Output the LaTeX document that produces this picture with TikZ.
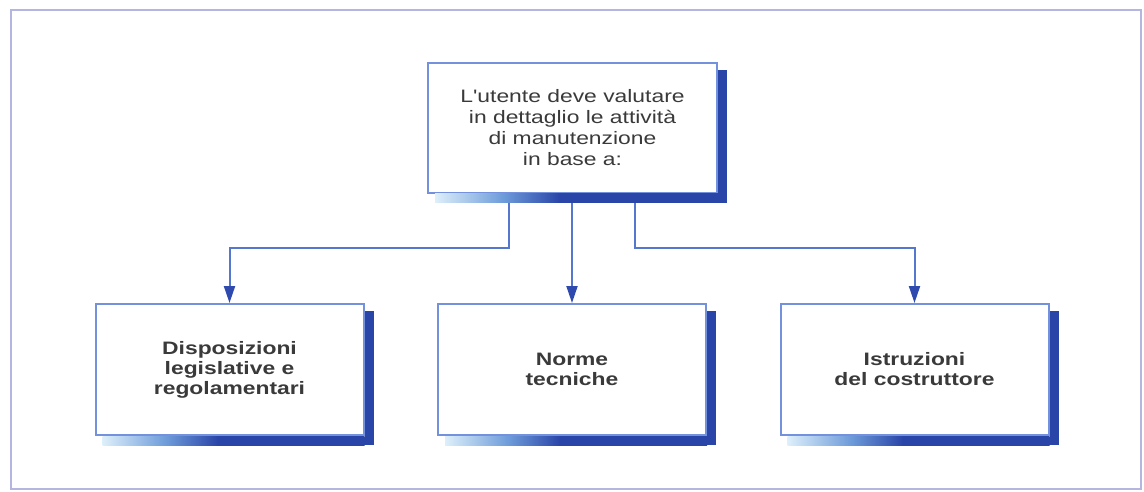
\documentclass[tikz,border=0pt]{standalone}
\usepackage{fontspec}
\newfontfamily\boxfont[FakeStretch=1.27]{Liberation Sans}
\usetikzlibrary{arrows.meta}

\definecolor{framec}{HTML}{B4B6E0}
\definecolor{borderc}{HTML}{7391DC}
\definecolor{linec}{HTML}{5677CE}
\definecolor{headc}{HTML}{2E4AAE}
\definecolor{shadowc}{HTML}{2A45A8}
\definecolor{midc}{HTML}{6E9CDA}
\definecolor{fadec}{HTML}{DDEFFA}
\definecolor{textc}{HTML}{3A3A3A}

% bottom edge of the drop shadow: pale on the left, deep blue on the right
\pgfdeclarehorizontalshading{shadowfade}{100bp}{%
  color(0bp)=(fadec); color(25bp)=(fadec); color(37bp)=(midc);
  color(47bp)=(shadowc); color(100bp)=(shadowc)}

% L-shaped drop shadow below and to the right of a box
\newcommand\boxshadow[1]{%
  \fill[shadowc] ([yshift=-8pt]#1.north east) rectangle ([xshift=9pt,yshift=-9pt]#1.south east);
  \shade[shading=shadowfade] ([xshift=8pt]#1.south west) rectangle ([yshift=-9pt]#1.south east);
}

\tikzset{
  box/.style={draw=borderc, line width=2pt, fill=white, inner sep=0pt,
    align=center, text=textc},
  topbox/.style={box, minimum width=289pt, minimum height=130pt,
    font=\boxfont\fontsize{18}{21}\selectfont},
  leafbox/.style={box, minimum width=268pt, minimum height=131pt,
    font=\boxfont\bfseries\fontsize{18}{20}\selectfont},
  conn/.style={draw=linec, line width=2pt,
    -{Triangle[width=11pt,length=17pt,fill=headc,color=headc]}},
}

\begin{document}
\begin{tikzpicture}[x=1pt,y=-1pt]
  \useasboundingbox (0,0) rectangle (1144,492);
  \fill[white] (0,0) rectangle (1144,492);
  \draw[framec, line width=2.5pt] (11,10) rectangle (1141,489);

  \node[topbox] (top) at (572.5,128)
    {L'utente deve valutare\\in dettaglio le attività\\di manutenzione\\in base a:};

  \node[leafbox] (dl) at (229.5,369.5) {Disposizioni\\legislative e\\regolamentari};
  \node[leafbox] (nt) at (572,369.5) {Norme\\tecniche};
  \node[leafbox] (ic) at (914.5,369.5) {Istruzioni\\del costruttore};

  % connectors from the upper box to the three sources
  \draw[conn] ([xshift=-63.5pt]top.south) -- ++(0,54) -| (dl.north);
  \draw[conn] (top.south -| nt.north) -- (nt.north);
  \draw[conn] ([xshift=62.5pt]top.south) -- ++(0,54) -| (ic.north);

  \boxshadow{top}
  \boxshadow{dl}
  \boxshadow{nt}
  \boxshadow{ic}
\end{tikzpicture}
\end{document}
